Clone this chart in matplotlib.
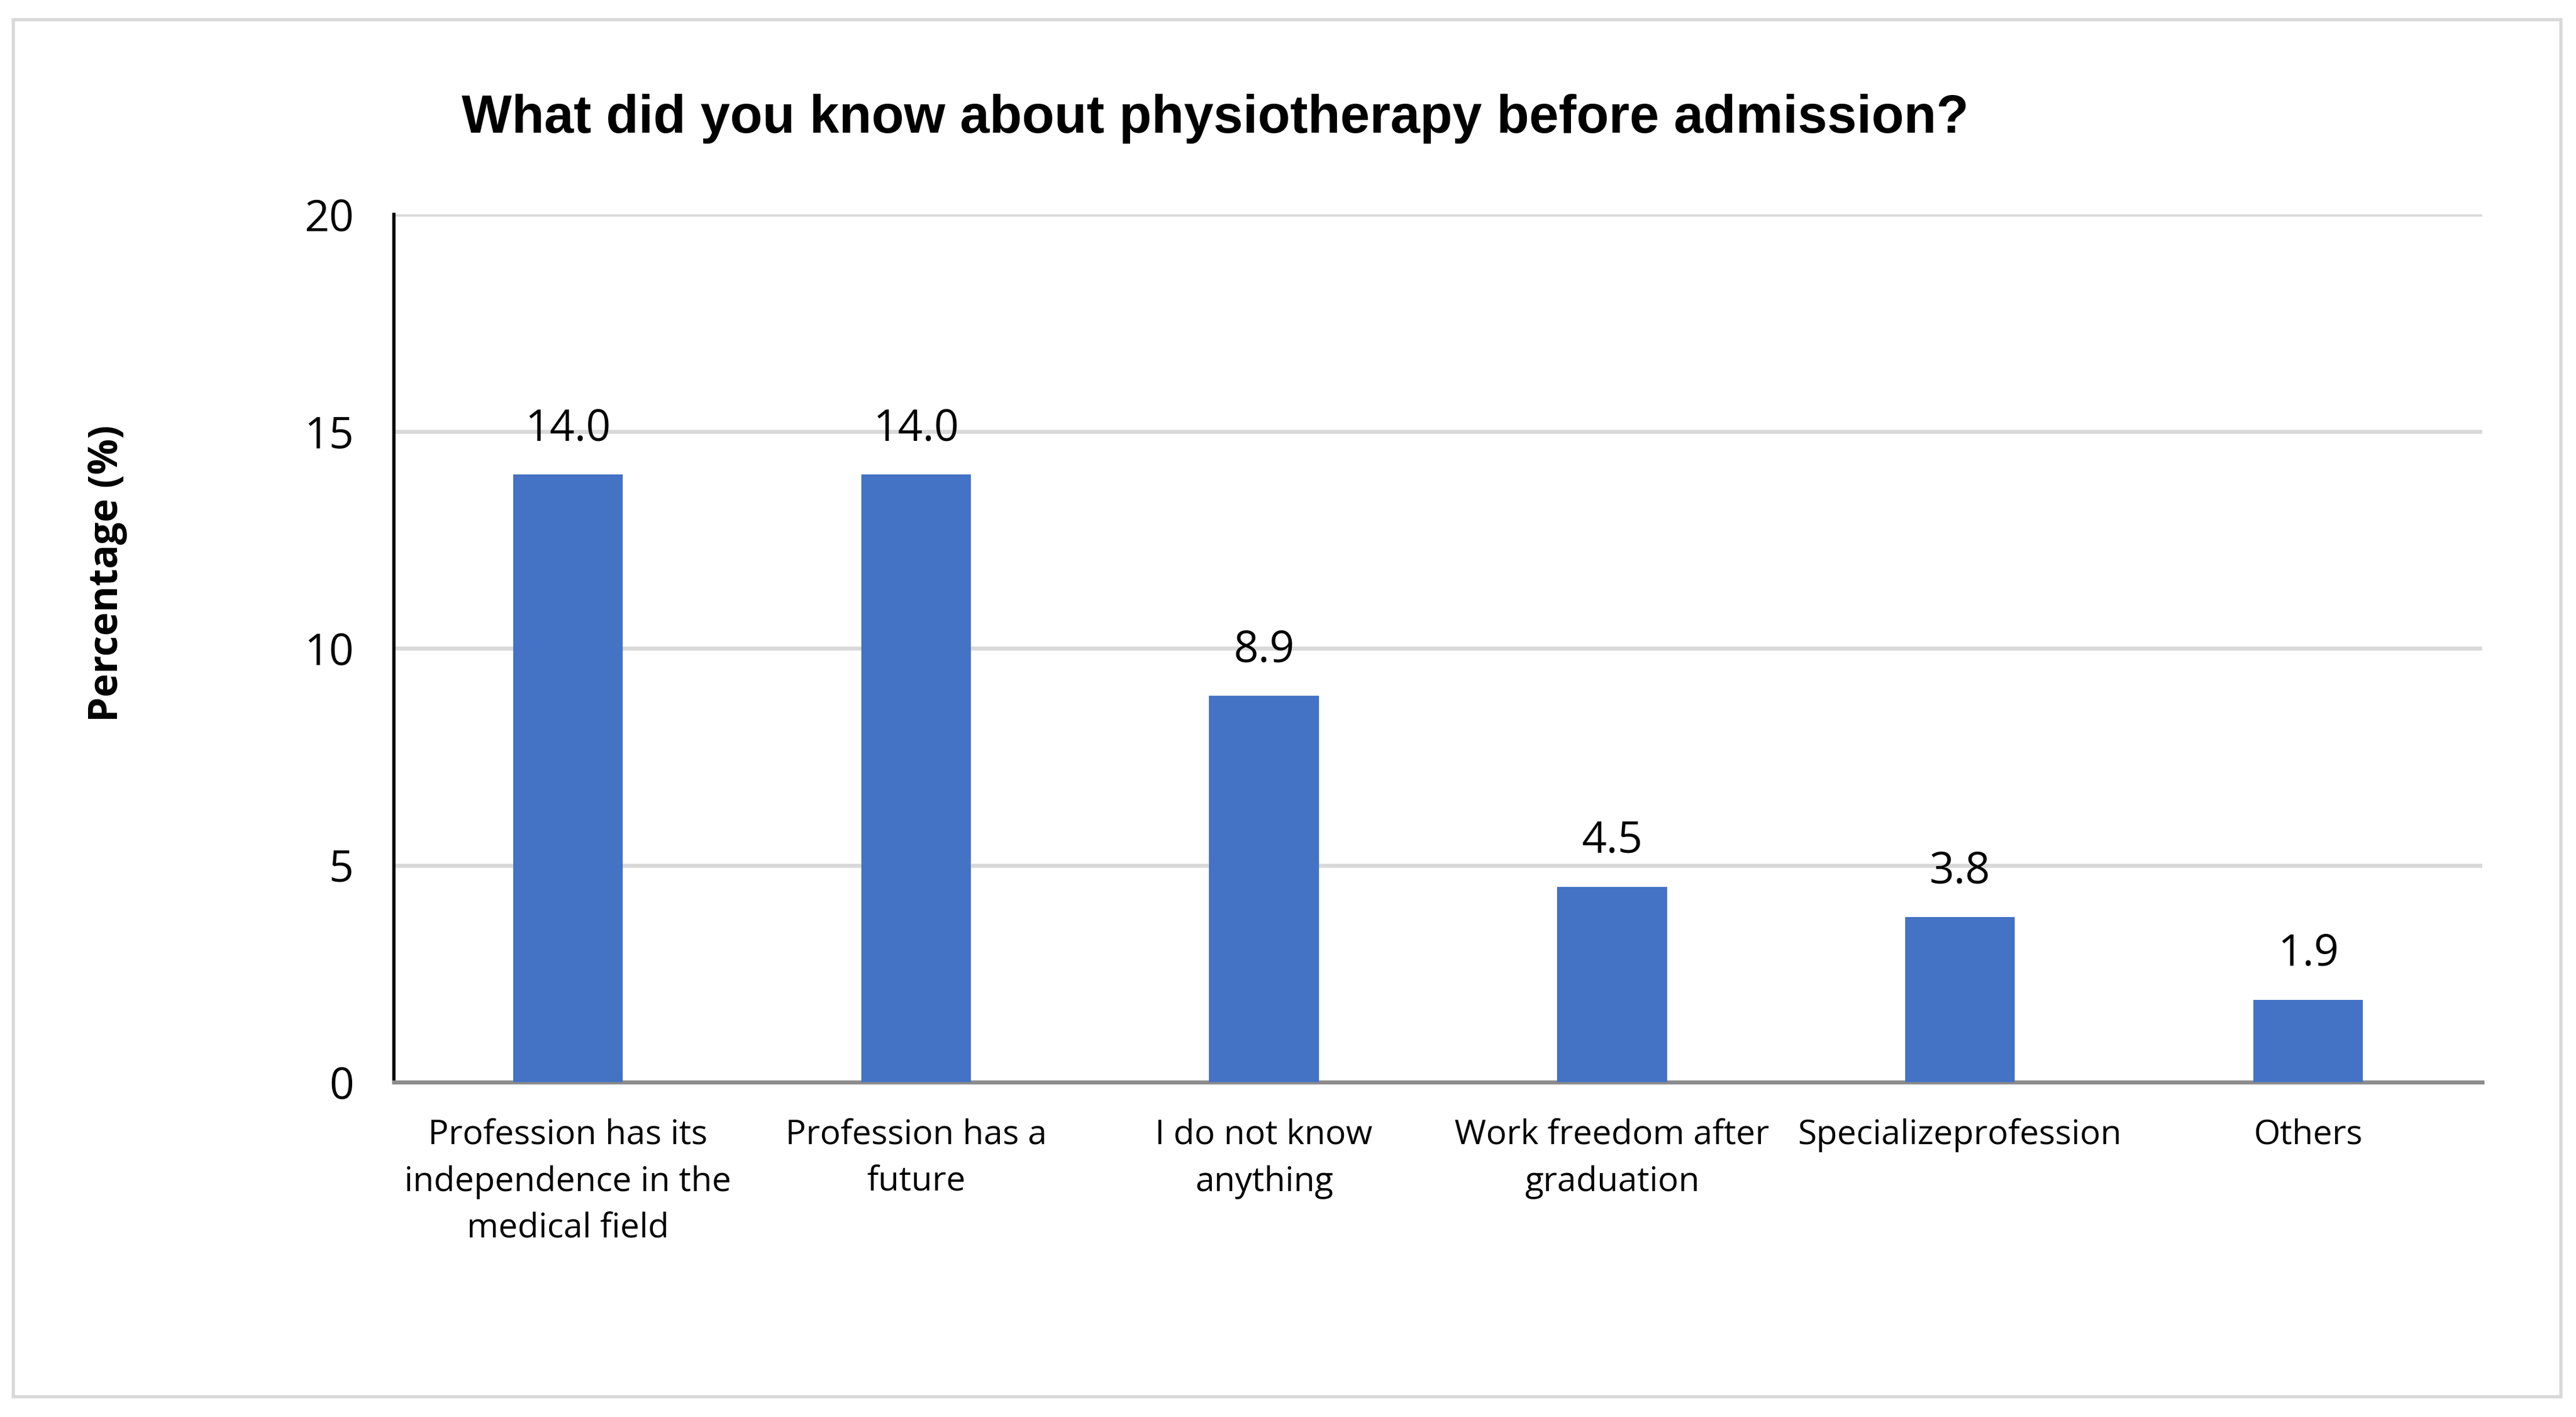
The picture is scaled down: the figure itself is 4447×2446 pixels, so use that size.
import matplotlib.pyplot as plt
from matplotlib.patches import Rectangle

categories = ['Profession has its\nindependence in the\nmedical field',
              'Profession has a\nfuture',
              'I do not know\nanything',
              'Work freedom after\ngraduation',
              'Specializeprofession',
              'Others']
values = [14.0, 14.0, 8.9, 4.5, 3.8, 1.9]
yticks = [0, 5, 10, 15, 20]

plt.rcParams['font.family'] = ['Open Sans', 'DejaVu Sans']

fig = plt.figure(figsize=(44.47, 24.46), dpi=100)
ax = fig.add_axes([680/4447, 1 - 1868/2446, (4285-680)/4447, (1868-370)/2446])

x = range(len(values))
ax.bar(x, values, width=0.315, color='#4472C4', zorder=3)
for i, v in zip(x, values):
    ax.text(i, v + 0.55, '%.1f' % v, ha='center', va='bottom', fontsize=54, color='black')

ax.set_xlim(-0.5, len(values) - 0.5)
ax.set_ylim(0, 20)
ax.set_yticks(yticks)
ax.set_yticklabels([str(t) for t in yticks], fontsize=54)
ax.set_xticks(list(x))
ax.set_xticklabels(categories, fontsize=42.5, linespacing=1.5, va='top')
ax.tick_params(axis='both', length=0)
ax.tick_params(axis='y', pad=50)
ax.tick_params(axis='x', pad=45)
ax.grid(axis='y', color='#d9d9d9', linewidth=5, zorder=0)

for s in ['top', 'right']:
    ax.spines[s].set_visible(False)
ax.spines['left'].set_color('black')
ax.spines['left'].set_linewidth(4)
ax.spines['bottom'].set_color('#8c8c8c')
ax.spines['bottom'].set_linewidth(5)

fig.text(185/4447, 1 - 990/2446, 'Percentage (%)', rotation=90, ha='center', va='center',
         fontsize=49.5, fontweight='bold')
fig.text(2098/4447, 1 - 205/2446, 'What did you know about physiotherapy before admission?',
         ha='center', va='center', fontsize=66, fontweight='bold', family='Liberation Sans')

fig.patches.append(Rectangle((23/4447, 1 - 2411/2446), (4421-23)/4447, (2411-34)/2446,
                             transform=fig.transFigure, fill=False, edgecolor='#d9d9d9',
                             linewidth=4))

fig.savefig('out.png', dpi=100, facecolor='white')
